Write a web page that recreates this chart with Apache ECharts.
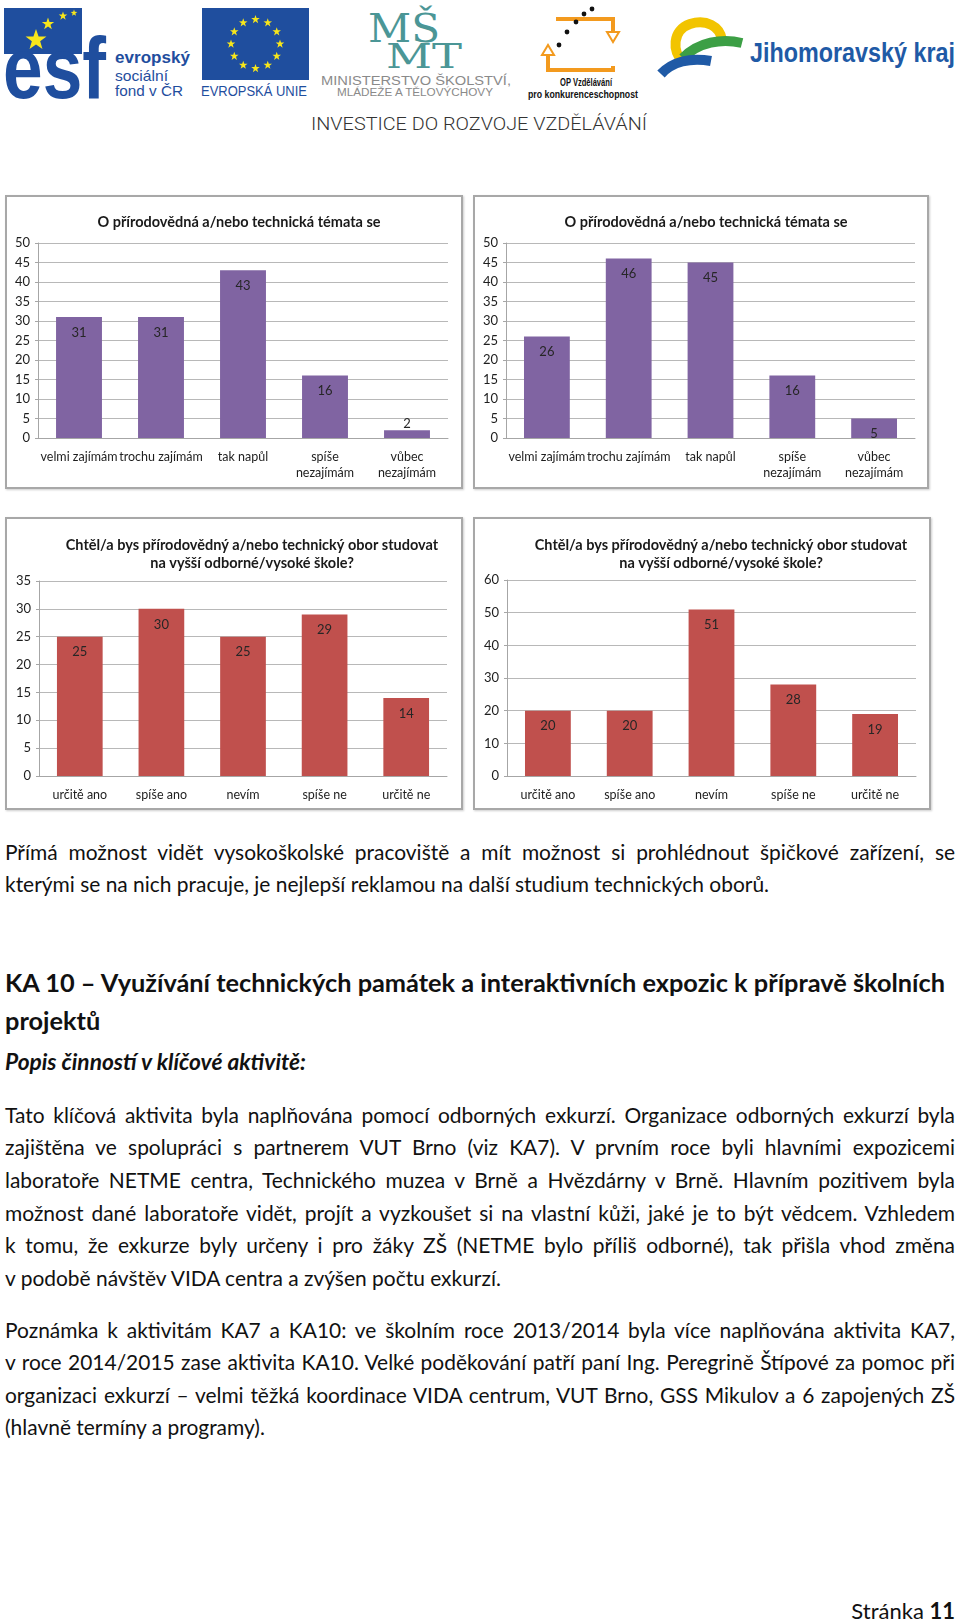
<!DOCTYPE html>
<html><head><meta charset="utf-8">
<script src="https://cdn.jsdelivr.net/npm/echarts@6/dist/echarts.min.js"></script>
<style>
html,body{margin:0;padding:0;background:#fff}
body{width:960px;height:1624px;position:relative;overflow:hidden;font-family:Lato,'Open Sans',sans-serif;color:#111}
.chart{position:absolute}
.frame{position:absolute;border:2px solid #a8a8a8;box-sizing:border-box;box-shadow:1px 1px 2px rgba(0,0,0,.2);pointer-events:none}
.ln{position:absolute;left:5px;white-space:nowrap;font-size:21px;line-height:32px;height:32px;display:inline-block}
.hd{position:absolute;left:5px;white-space:nowrap;font-weight:bold;line-height:38px;display:inline-block}
</style></head><body>

<svg id="hdr" width="960" height="140" style="position:absolute;left:0;top:0" xmlns="http://www.w3.org/2000/svg">
  <!-- ESF -->
  <rect x="4" y="8" width="78" height="46" fill="#1f4e9e"/>
  <g id="esfstars" fill="#f7e61b"></g>
  <text x="3" y="98" font-family="Liberation Sans, Arial" font-weight="bold" font-size="88" fill="#1f4e9e" textLength="103" lengthAdjust="spacingAndGlyphs">esf</text>
  <text x="115" y="63" font-family="Liberation Sans, Arial" font-weight="bold" font-size="17" fill="#1f4e9e" textLength="75" lengthAdjust="spacingAndGlyphs">evropský</text>
  <text x="115" y="81" font-family="Liberation Sans, Arial" font-size="15" fill="#1f4e9e" textLength="53" lengthAdjust="spacingAndGlyphs">sociální</text>
  <text x="115" y="96" font-family="Liberation Sans, Arial" font-size="15" fill="#1f4e9e" textLength="68" lengthAdjust="spacingAndGlyphs">fond v ČR</text>
  <!-- EU -->
  <rect x="202" y="8" width="107" height="72" fill="#1f4e9e"/>
  <g id="eustars" fill="#f7e61b"></g>
  <text x="201" y="96" font-family="Liberation Sans, Arial" font-size="14" fill="#1f4e9e" textLength="106" lengthAdjust="spacingAndGlyphs">EVROPSKÁ UNIE</text>
  <!-- MSMT -->
  <text x="368" y="42" font-family="DejaVu Serif, Liberation Serif" font-size="40" fill="#4b9696" textLength="72" lengthAdjust="spacingAndGlyphs">MŠ</text>
  <text x="386" y="68" font-family="DejaVu Serif, Liberation Serif" font-size="34" fill="#4b9696" textLength="76" lengthAdjust="spacingAndGlyphs">MT</text>
  <text x="321" y="85" font-family="Liberation Sans, Arial" font-size="12.5" fill="#8a8a8a" textLength="190" lengthAdjust="spacingAndGlyphs">MINISTERSTVO ŠKOLSTVÍ,</text>
  <text x="337" y="96" font-family="Liberation Sans, Arial" font-size="10.5" fill="#8a8a8a" textLength="156" lengthAdjust="spacingAndGlyphs">MLÁDEŽE A TĚLOVÝCHOVY</text>
  <!-- OP -->
  <path d="M548 48 L548 70 L613 70 L613 66 M613 40 L613 19 L556 19" fill="none" stroke="#f39a1e" stroke-width="4"/>
  <path d="M607 32 L619 32 L613 42 Z M542 55 L554 55 L548 45 Z" fill="#fff" stroke="#f39a1e" stroke-width="2"/>
  <circle cx="592" cy="9" r="2.4" fill="#111"/><circle cx="584" cy="14" r="2.4" fill="#111"/><circle cx="576" cy="22" r="2.4" fill="#111"/><circle cx="567" cy="32" r="2.4" fill="#111"/><circle cx="559" cy="45" r="2.4" fill="#111"/>
  <text x="560" y="86" font-family="Liberation Sans Narrow, Liberation Sans" font-weight="bold" font-size="10.5" fill="#111" textLength="52" lengthAdjust="spacingAndGlyphs">OP Vzdělávání</text>
  <text x="528" y="98" font-family="Liberation Sans Narrow, Liberation Sans" font-weight="bold" font-size="10.5" fill="#111" textLength="110" lengthAdjust="spacingAndGlyphs">pro konkurenceschopnost</text>
  <!-- Jihomoravsky kraj -->
  <path d="M683 62 C672 52 672 30 690 24 C706 19 720 26 722 40" fill="none" stroke="#f2c400" stroke-width="10"/>
  <path d="M683 58 C698 42 722 38 742 43" fill="none" stroke="#3c9f45" stroke-width="10"/>
  <path d="M661 74 C672 62 690 57 711 61" fill="none" stroke="#1f5aa6" stroke-width="10"/>
  <text x="750" y="62" font-family="Liberation Sans, Arial" font-weight="bold" font-size="28" fill="#1f5aa6" textLength="205" lengthAdjust="spacingAndGlyphs">Jihomoravský kraj</text>
  <!-- investice -->
  <text x="311" y="130" font-family="Roboto, Liberation Sans" font-weight="300" font-size="18.5" fill="#333" textLength="336" lengthAdjust="spacingAndGlyphs">INVESTICE DO ROZVOJE VZDĚLÁVÁNÍ</text>
</svg>

<div id="c1" class="chart" style="left:5px;top:195px;width:458px;height:294px"></div>
<div class="frame" style="left:5px;top:195px;width:458px;height:294px"></div>
<div id="c2" class="chart" style="left:473px;top:195px;width:456px;height:294px"></div>
<div class="frame" style="left:473px;top:195px;width:456px;height:294px"></div>
<div id="c3" class="chart" style="left:5px;top:517px;width:458px;height:293px"></div>
<div class="frame" style="left:5px;top:517px;width:458px;height:293px"></div>
<div id="c4" class="chart" style="left:473px;top:517px;width:458px;height:293px"></div>
<div class="frame" style="left:473px;top:517px;width:458px;height:293px"></div>

<div class="ln j" style="top:836px">Přímá možnost vidět vysokoškolské pracoviště a mít možnost si prohlédnout špičkové zařízení, se</div>
<div class="ln" style="top:868px">kterými se na nich pracuje, je nejlepší reklamou na další studium technických oborů.</div>

<div class="hd" id="h1" style="top:963px;font-size:24px" data-w="940">KA 10 – Využívání technických památek a interaktivních expozic k přípravě školních</div>
<div class="hd" style="top:1001px;font-size:24px" id="h2">projektů</div>
<div class="hd" id="h3" style="top:1043px;font-size:19px;font-style:italic" data-w="301">Popis činností v klíčové aktivitě:</div>

<div class="ln j" style="top:1099px">Tato klíčová aktivita byla naplňována pomocí odborných exkurzí. Organizace odborných exkurzí byla</div>
<div class="ln j" style="top:1131px">zajištěna ve spolupráci s partnerem VUT Brno (viz KA7). V prvním roce byli hlavními expozicemi</div>
<div class="ln j" style="top:1164px">laboratoře NETME centra, Technického muzea v Brně a Hvězdárny v Brně. Hlavním pozitivem byla</div>
<div class="ln j" style="top:1197px">možnost dané laboratoře vidět, projít a vyzkoušet si na vlastní kůži, jaké je to být vědcem. Vzhledem</div>
<div class="ln j" style="top:1229px">k tomu, že exkurze byly určeny i pro žáky ZŠ (NETME bylo příliš odborné), tak přišla vhod změna</div>
<div class="ln" style="top:1262px">v podobě návštěv VIDA centra a zvýšen počtu exkurzí.</div>

<div class="ln j" style="top:1314px">Poznámka k aktivitám KA7 a KA10: ve školním roce 2013/2014 byla více naplňována aktivita KA7,</div>
<div class="ln j" style="top:1346px">v roce 2014/2015 zase aktivita KA10. Velké poděkování patří paní Ing. Peregrině Štípové za pomoc při</div>
<div class="ln j" style="top:1379px">organizaci exkurzí – velmi těžká koordinace VIDA centrum, VUT Brno, GSS Mikulov a 6 zapojených ZŠ</div>
<div class="ln" style="top:1411px">(hlavně termíny a programy).</div>

<div style="position:absolute;right:5px;top:1596px;font-size:22px;line-height:30px;white-space:nowrap">Stránka <b>11</b></div>

<script>
// ---------- data ----------
const title1 = 'O přírodovědná a/nebo technická témata se';
const title2 = 'Chtěl/a bys přírodovědný a/nebo technický obor studovat\nna vyšší odborné/vysoké škole?';
const catsInterest = ['velmi zajímám', 'trochu zajímám', 'tak napůl', 'spíše\nnezajímám', 'vůbec\nnezajímám'];
const catsStudy = ['určitě ano', 'spíše ano', 'nevím', 'spíše ne', 'určitě ne'];
const interestLeft = [31, 31, 43, 16, 2];
const interestRight = [26, 46, 45, 16, 5];
const studyLeft = [25, 30, 25, 29, 14];
const studyRight = [20, 20, 51, 28, 19];
const yMaxInterest = 50, yStepInterest = 5;
const yMaxStudyLeft = 35, yStepStudyLeft = 5;
const yMaxStudyRight = 60, yStepStudyRight = 10;

const PURPLE = '#8064a2', RED = '#c0504d';
const FONT = 'Lato';

// ---------- header decorations ----------
function starPath(cx, cy, r) {
  let d = '';
  for (let i = 0; i < 10; i++) {
    const rr = i % 2 ? r * 0.4 : r;
    const a = -Math.PI / 2 + i * Math.PI / 5;
    d += (i ? 'L' : 'M') + (cx + rr * Math.cos(a)).toFixed(2) + ' ' + (cy + rr * Math.sin(a)).toFixed(2);
  }
  return d + 'Z';
}
const NS = 'http://www.w3.org/2000/svg';
(function () {
  const g = document.getElementById('eustars');
  for (let i = 0; i < 12; i++) {
    const a = i * Math.PI / 6;
    const p = document.createElementNS(NS, 'path');
    p.setAttribute('d', starPath(255.5 + 24.5 * Math.sin(a), 44 - 24.5 * Math.cos(a), 4.5));
    g.appendChild(p);
  }
  const e = document.getElementById('esfstars');
  [[36, 40, 11], [48, 24, 6.5], [63, 16, 4.5], [74, 13, 3.5]].forEach(s => {
    const p = document.createElementNS(NS, 'path');
    p.setAttribute('d', starPath(s[0], s[1], s[2]));
    e.appendChild(p);
  });
})();

// ---------- charts ----------
function makeOption(title, cats, vals, color, yMax, yStep, grid, titleTop, titleLeft) {
  return {
    animation: false,
    title: {
      text: title, left: titleLeft, top: titleTop, textAlign: 'center',
      textStyle: { fontFamily: FONT, fontSize: 14.5, fontWeight: 'bold', color: '#1a1a1a', lineHeight: 18 }
    },
    grid: grid,
    xAxis: {
      type: 'category', data: cats,
      axisLine: { lineStyle: { color: '#a6a6a6', width: 1 } },
      axisTick: { show: false },
      axisLabel: { interval: 0, color: '#1e1e1e', fontFamily: FONT, fontSize: 12.5, lineHeight: 16, margin: 11 }
    },
    yAxis: {
      type: 'value', min: 0, max: yMax, interval: yStep,
      axisLine: { show: true, lineStyle: { color: '#a6a6a6' } },
      axisTick: { show: true, length: 3, lineStyle: { color: '#a6a6a6' } },
      splitLine: { lineStyle: { color: '#b8b8b8' } },
      axisLabel: { color: '#1e1e1e', fontFamily: FONT, fontSize: 13, margin: 8 }
    },
    series: [{
      type: 'bar', barCategoryGap: '44%',
      data: vals.map(v => v / yMax < 0.08 ? { value: v, label: { position: 'top', distance: 0 } } : v),
      itemStyle: { color: color },
      label: { show: true, position: 'insideTop', distance: 9, color: '#262626', fontFamily: FONT, fontSize: 13 }
    }]
  };
}

function render() {
  echarts.init(document.getElementById('c1')).setOption(
    makeOption(title1, catsInterest, interestLeft, PURPLE, yMaxInterest, yStepInterest,
      { left: 33, right: 15, top: 48, bottom: 51 }, 13, 229));
  echarts.init(document.getElementById('c2')).setOption(
    makeOption(title1, catsInterest, interestRight, PURPLE, yMaxInterest, yStepInterest,
      { left: 33, right: 14, top: 48, bottom: 51 }, 13, 228));
  echarts.init(document.getElementById('c3')).setOption(
    makeOption(title2, catsStudy, studyLeft, RED, yMaxStudyLeft, yStepStudyLeft,
      { left: 34, right: 16, top: 64, bottom: 34 }, 14, 242));
  echarts.init(document.getElementById('c4')).setOption(
    makeOption(title2, catsStudy, studyRight, RED, yMaxStudyRight, yStepStudyRight,
      { left: 34, right: 15, top: 63, bottom: 34 }, 14, 243));
}

// ---------- text fitting ----------
function layoutText() {
  const TARGET = 950;
  const js = Array.from(document.querySelectorAll('.ln.j'));
  let maxW = 0;
  js.forEach(el => { maxW = Math.max(maxW, el.getBoundingClientRect().width); });
  if (maxW > TARGET - 15) {
    const fs = 21 * (TARGET - 15) / maxW;
    document.querySelectorAll('.ln').forEach(el => el.style.fontSize = fs.toFixed(2) + 'px');
  }
  js.forEach(el => {
    el.style.wordSpacing = '0px';
    const w = el.getBoundingClientRect().width;
    const n = (el.textContent.match(/ /g) || []).length;
    if (n) el.style.wordSpacing = ((TARGET - w) / n).toFixed(3) + 'px';
  });
  document.querySelectorAll('.hd[data-w]').forEach(el => {
    const w = el.getBoundingClientRect().width;
    const target = +el.dataset.w;
    const fs = parseFloat(el.style.fontSize) * target / w;
    el.style.fontSize = fs.toFixed(2) + 'px';
    if (el.id === 'h1') document.getElementById('h2').style.fontSize = fs.toFixed(2) + 'px';
  });
}

function go() { layoutText(); render(); }
if (document.fonts && document.fonts.ready) {
  document.fonts.load('21px Lato').then(() => document.fonts.load('bold 21px Lato')).then(go, go);
} else { go(); }
</script>
</body></html>
